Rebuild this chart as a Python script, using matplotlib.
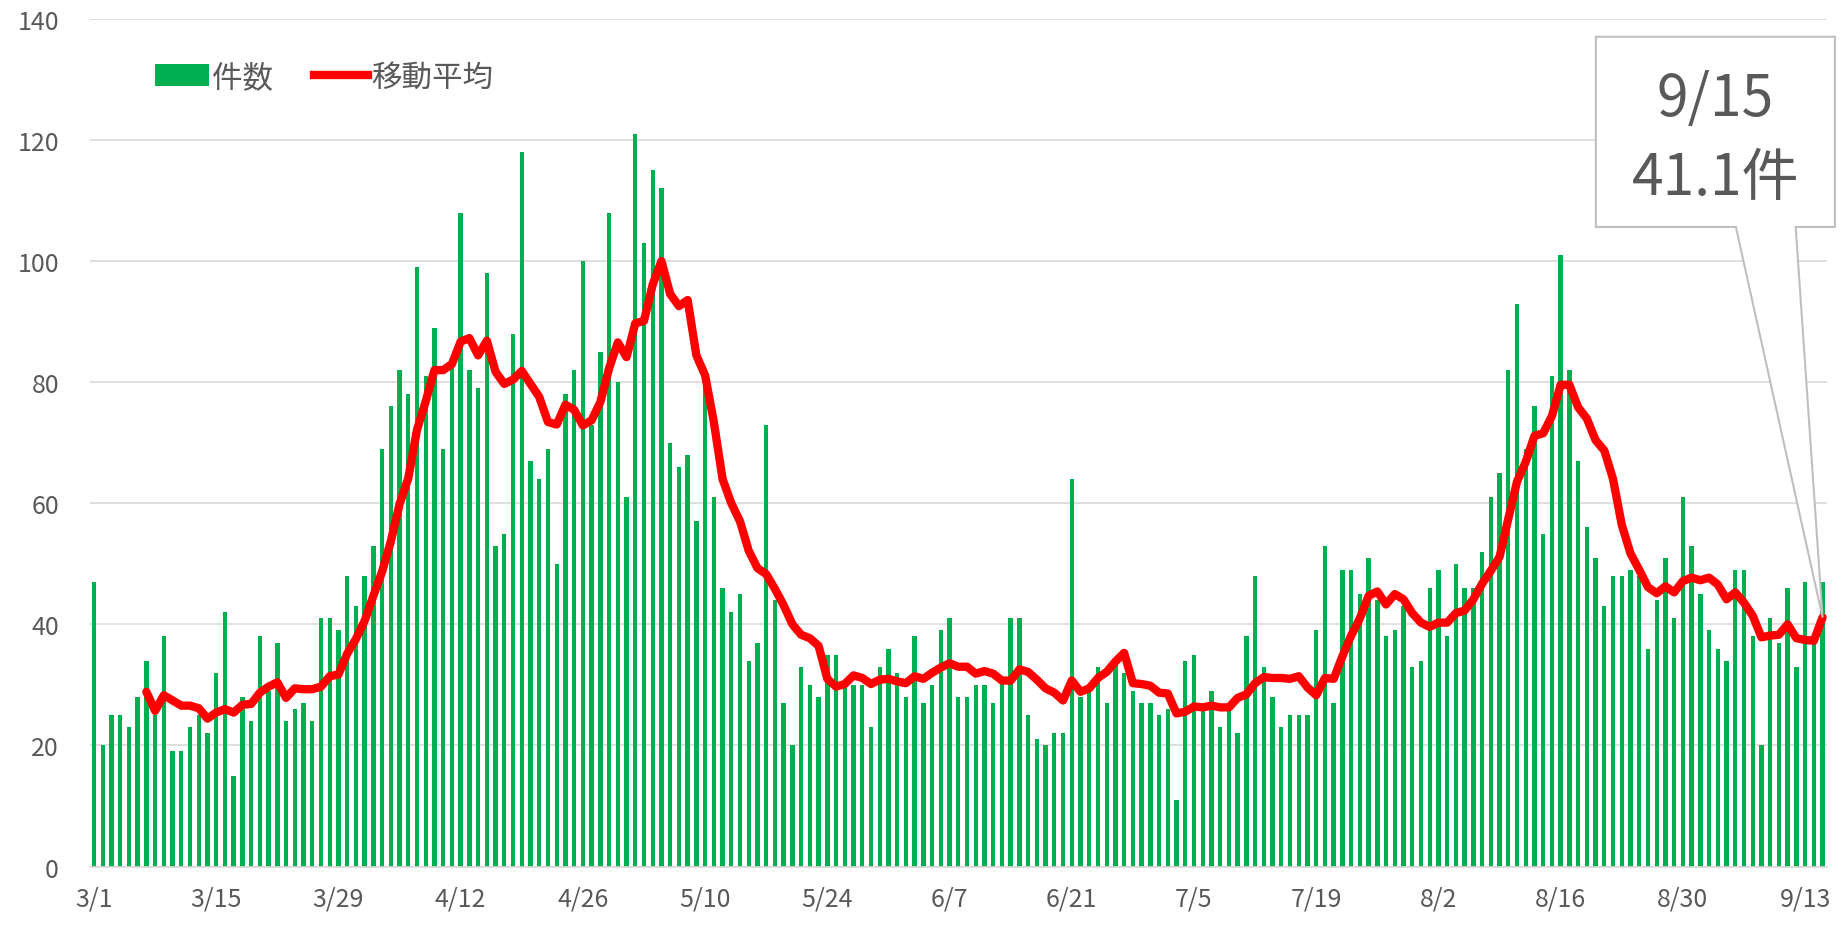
"""
件数と7日間移動平均（3/1〜9/15）
"""
import matplotlib
matplotlib.use("Agg")
import matplotlib.pyplot as plt
from matplotlib.lines import Line2D
from matplotlib.patches import Patch, Polygon
import numpy as np
import pandas as pd

plt.rcParams["font.family"] = ["Noto Sans CJK JP", "DejaVu Sans"]

# ── 日別件数 ─────────────────────────────────────────────────────
MAR = [47, 20, 25, 25, 23, 28, 34, 25, 38, 19, 19, 23, 25, 22, 32, 42, 15, 28, 24, 38,
       29, 37, 24, 26, 27, 24, 41, 41, 39, 48, 43]
APR = [48, 53, 69, 76, 82, 78, 99, 81, 89, 69, 83, 108, 82, 79, 98, 53, 55, 88, 118, 67,
       64, 69, 50, 78, 82, 100, 73, 85, 108, 80]
MAY = [61, 121, 103, 115, 112, 70, 66, 68, 57, 80, 61, 46, 42, 45, 34, 37, 73, 44, 27, 20,
       33, 30, 28, 35, 35, 30, 30, 30, 23, 33, 36]
JUN = [32, 28, 38, 27, 30, 39, 41, 28, 28, 30, 30, 27, 31, 41, 41, 25, 21, 20, 22, 22,
       64, 28, 29, 33, 27, 34, 32, 29, 27, 27]
JUL = [25, 26, 11, 34, 35, 26, 29, 23, 26, 22, 38, 48, 33, 28, 23, 25, 25, 25, 39, 53,
       27, 49, 49, 45, 51, 44, 38, 39, 43, 33, 34]
AUG = [46, 49, 38, 50, 46, 46, 52, 61, 65, 82, 93, 69, 76, 55, 81, 101, 82, 67, 56, 51,
       43, 48, 48, 49, 48, 36, 44, 51, 41, 61, 53]
SEP = [45, 39, 36, 34, 49, 49, 38, 20, 41, 37, 46, 33, 47, 37, 47]

TICK_LABELS = ["3/1", "3/15", "3/29", "4/12", "4/26", "5/10", "5/24", "6/7",
               "6/21", "7/5", "7/19", "8/2", "8/16", "8/30", "9/13"]
TICK_STEP = 14
WINDOW = 7

BAR_COLOR = "#00B050"
LINE_COLOR = "#FF0000"
TEXT_COLOR = "#595959"
GRID_COLOR = "#D9D9D9"

counts = pd.Series(MAR + APR + MAY + JUN + JUL + AUG + SEP, dtype=float)
moving = counts.rolling(WINDOW).mean()
x = np.arange(len(counts))

fig = plt.figure(figsize=(18.48, 9.29), dpi=100)
ax = fig.add_axes([0.0485, 0.0662, 0.9401, 0.9123])

ax.bar(x, counts, width=0.5, color=BAR_COLOR, zorder=2)
ax.plot(x, moving, color=LINE_COLOR, linewidth=6, solid_joinstyle="round",
        solid_capstyle="round", zorder=3)

ax.set_xlim(-0.5, len(counts) - 0.5)
ax.set_ylim(0, 140)
ax.set_yticks(np.arange(0, 141, 20))
ax.set_xticks(np.arange(0, len(counts), TICK_STEP))
ax.set_xticklabels(TICK_LABELS)
ax.tick_params(axis="both", length=0, labelsize=18, labelcolor=TEXT_COLOR)
ax.tick_params(axis="y", pad=22)
ax.tick_params(axis="x", pad=14)
ax.grid(axis="y", color=GRID_COLOR, linewidth=1.2, zorder=0)
ax.set_axisbelow(True)
for side in ("top", "right", "left"):
    ax.spines[side].set_visible(False)
ax.spines["bottom"].set_color(GRID_COLOR)
ax.spines["bottom"].set_linewidth(1.2)

handles = [Patch(facecolor=BAR_COLOR, edgecolor="none"),
           Line2D([0], [0], color=LINE_COLOR, linewidth=6)]
leg = ax.legend(handles, ["件数", "移動平均"], loc="upper left",
                bbox_to_anchor=(0.022, 0.982), ncol=2, frameon=False,
                fontsize=22, handlelength=1.75, handletextpad=0.1,
                columnspacing=1.35)
for t in leg.get_texts():
    t.set_color(TEXT_COLOR)

# ── 吹き出し（最終日の移動平均） ─────────────────────────────────────────────
last = len(counts) - 1
tip = ax.transAxes.inverted().transform(ax.transData.transform((last, moving.iloc[last])))
L, R, B, T = 0.867, 1.0046, 0.7546, 0.979
callout = Polygon([(L, B), (0.9476, B), tip, (0.982, B), (R, B), (R, T), (L, T)],
                  closed=True, transform=ax.transAxes, facecolor="white",
                  edgecolor="#BFBFBF", linewidth=1.5, clip_on=False, zorder=5)
ax.add_patch(callout)
ax.text((L + R) / 2, (B + T) / 2 - 0.007, f"9/15\n{moving.iloc[last]:.1f}件",
        transform=ax.transAxes, ha="center", va="center", fontsize=41,
        color=TEXT_COLOR, linespacing=1.45, zorder=6)

fig.savefig("out.png", dpi=100)
